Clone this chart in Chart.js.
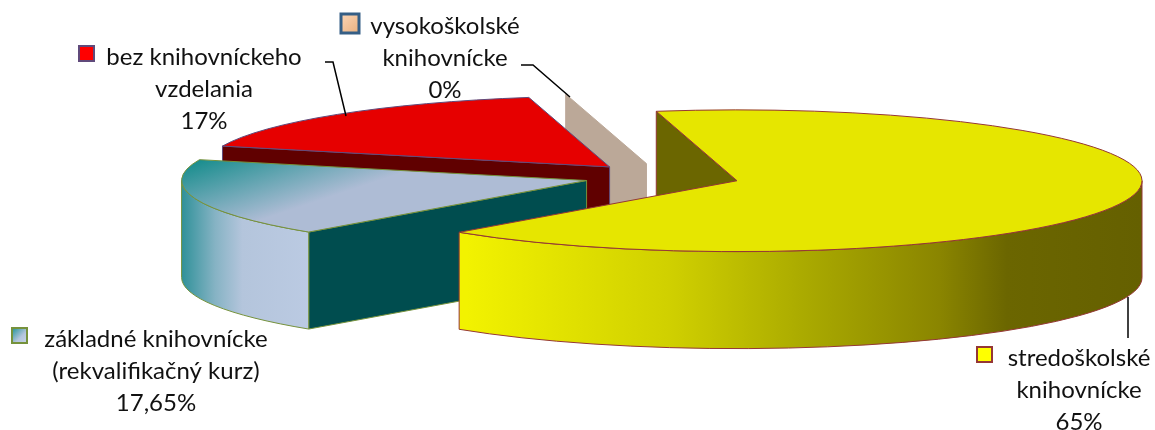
<!DOCTYPE html>
<html>
<head>
<meta charset="utf-8">
<title>Kvalifikácia</title>
<script src="https://cdn.jsdelivr.net/npm/chart.js@4"></script>
<style>
    html, body { margin: 0; padding: 0; background: #fff; }
    canvas { display: block; }
</style>
</head>
<body>
<canvas id="pieChart" width="1155" height="430"></canvas>
<script>
(function() {

    // Data, clockwise from the gap at the back
    var categories = [
        ["stredoškolské", "knihovnícke"],
        ["základné knihovnícke", "(rekvalifikačný kurz)"],
        ["bez knihovníckeho", "vzdelania"],
        ["vysokoškolské", "knihovnícke"]
    ];
    var values = [65, 17.65, 17, 0];
    var valueLabels = ["65%", "17,65%", "17%", "0%"];

    // Slice colours
    var topColors = ["#e6e600", "#aebcd5", "#e60000", "#bba898"];
    var sideColors = ["#6b6600", "#004d4f", "#600000", "#bba898"];
    var edgeColors = ["#953735", "#76923c", "#604a7b", "#bba898"];

    // Fake 3D settings
    var tilt = 0.175;
    var depth = 97;
    var explode = 78;

    // Label blocks: text centre, first line y, key box and leader line
    var labelBoxes = [
        { cx: 1079, y: 358, key: [977, 347, 15, 15], leader: [[1128, 297], [1128, 338]] },
        { cx: 156, y: 339, key: [12, 328, 15, 15], leader: null },
        { cx: 204, y: 57, key: [79, 46, 15, 15], leader: [[325, 62], [333, 62], [346, 116]] },
        { cx: 445, y: 26, key: [341, 14, 18, 19], leader: [[521, 65], [533, 65], [570, 97]] }
    ];
    var lineHeight = 32;

    function screenY(chart, y) {
        var cy = (chart.chartArea.top + chart.chartArea.bottom) / 2;
        return cy + (y - cy) * tilt;
    }

    // Gradient for the walls, in screen pixels
    function yellowSide(ctx, arc) {
        var g = ctx.createLinearGradient(467, 0, arc.x + arc.outerRadius, 0);
        g.addColorStop(0, "#f2f200");
        g.addColorStop(0.3, "#d0d000");
        g.addColorStop(0.5, "#aaaa00");
        g.addColorStop(0.7, "#8a8500");
        g.addColorStop(0.8, "#6b6600");
        g.addColorStop(1, "#656000");
        return g;
    }

    function tealSide(ctx, arc) {
        var left = arc.x - arc.outerRadius;
        var g = ctx.createLinearGradient(left, 0, left + 135, 0);
        g.addColorStop(0, "#2f9199");
        g.addColorStop(0.25, "#86b3c4");
        g.addColorStop(0.45, "#b4c5dc");
        g.addColorStop(1, "#bccbe3");
        return g;
    }

    // Top of the teal slice, drawn in the unsquashed pie space
    function tealTop(ctx, arc) {
        var g = ctx.createLinearGradient(arc.x - 355, arc.y - 186, arc.x - 163, arc.y - 86);
        g.addColorStop(0, "#178d8d");
        g.addColorStop(1, "#aebcd5");
        return g;
    }

    function drawWalls(chart, arc, i) {
        var ctx = chart.ctx;
        var r = arc.outerRadius;
        var x = arc.x;
        var y = screenY(chart, arc.y);
        var a = arc.startAngle;

        // radial wall at the start edge of the slice
        var rimX = x + Math.cos(a) * r;
        var rimY = y + Math.sin(a) * r * tilt;
        ctx.beginPath();
        ctx.moveTo(x, y);
        ctx.lineTo(rimX, rimY);
        ctx.lineTo(rimX, rimY + depth);
        ctx.lineTo(x, y + depth);
        ctx.closePath();
        ctx.fillStyle = sideColors[i];
        ctx.fill();
        ctx.lineWidth = 1;
        ctx.strokeStyle = i === 3 ? sideColors[i] : edgeColors[i];
        ctx.stroke();

        // outer wall, only the part that faces the viewer
        var a0 = Math.max(arc.startAngle, 0);
        var a1 = Math.min(arc.endAngle, Math.PI);
        if (a1 > a0) {
            ctx.beginPath();
            ctx.ellipse(x, y, r, r * tilt, 0, a0, a1);
            ctx.ellipse(x, y + depth, r, r * tilt, 0, a1, a0, true);
            ctx.closePath();
            ctx.fillStyle = i === 0 ? yellowSide(ctx, arc) : tealSide(ctx, arc);
            ctx.fill();
            ctx.strokeStyle = edgeColors[i];
            ctx.stroke();
        }
    }

    function drawTopEdge(chart, arc, i) {
        if (arc.circumference === 0) {
            return;
        }
        var ctx = chart.ctx;
        ctx.beginPath();
        ctx.moveTo(arc.x, screenY(chart, arc.y));
        ctx.ellipse(arc.x, screenY(chart, arc.y), arc.outerRadius, arc.outerRadius * tilt, 0, arc.startAngle, arc.endAngle);
        ctx.closePath();
        ctx.lineWidth = 1;
        ctx.strokeStyle = edgeColors[i];
        ctx.stroke();
    }

    function keyFill(ctx, i, k) {
        if (i === 0) { return "#ffff00"; }
        if (i === 2) { return "#ff0000"; }
        var g = ctx.createLinearGradient(k[0], k[1], k[0] + k[2], k[1] + k[3]);
        if (i === 1) {
            g.addColorStop(0, "#1f9296");
            g.addColorStop(0.6, "#b4c5dc");
            g.addColorStop(1, "#c6d4e8");
        } else {
            g.addColorStop(0, "#fbd5b5");
            g.addColorStop(1, "#e8b080");
        }
        return g;
    }

    function drawLabels(chart) {
        var ctx = chart.ctx;
        ctx.save();
        for (var i = 0; i < categories.length; i++) {
            var box = labelBoxes[i];
            var k = box.key;
            var lines = categories[i].concat(valueLabels[i]);

            ctx.font = "24px Lato";
            ctx.fillStyle = "#111";
            ctx.textAlign = "center";
            ctx.textBaseline = "middle";
            for (var j = 0; j < lines.length; j++) {
                ctx.fillText(lines[j], box.cx, box.y + j * lineHeight);
            }

            ctx.fillStyle = keyFill(ctx, i, k);
            ctx.fillRect(k[0], k[1], k[2], k[3]);
            ctx.strokeStyle = ["#953735", "#76923c", "#604a7b", "#355e85"][i];
            ctx.lineWidth = i === 3 ? 3 : 2;
            ctx.strokeRect(k[0], k[1], k[2], k[3]);

            if (box.leader) {
                ctx.beginPath();
                ctx.moveTo(box.leader[0][0], box.leader[0][1]);
                for (var p = 1; p < box.leader.length; p++) {
                    ctx.lineTo(box.leader[p][0], box.leader[p][1]);
                }
                ctx.strokeStyle = "#000";
                ctx.lineWidth = 1.5;
                ctx.stroke();
            }
        }
        ctx.restore();
    }

    var pie3d = {
        id: "pie3d",
        afterDatasetsUpdate: function(chart) {
            var arcs = chart.getDatasetMeta(0).data;
            arcs.forEach(function(arc) {
                var half = (arc.startAngle + arc.endAngle) / 2;
                arc.x += Math.cos(half) * explode;
                arc.y += Math.sin(half) * explode;
            });
            arcs[1].options = Object.assign({}, arcs[1].options, { backgroundColor: tealTop(chart.ctx, arcs[1]) });
        },
        beforeDatasetsDraw: function(chart) {
            var ctx = chart.ctx;
            var arcs = chart.getDatasetMeta(0).data;
            var cy = (chart.chartArea.top + chart.chartArea.bottom) / 2;
            for (var i = arcs.length - 1; i >= 0; i--) {
                drawWalls(chart, arcs[i], i);
            }
            // the pie itself is drawn flat and squashed into an ellipse
            ctx.save();
            ctx.translate(0, cy);
            ctx.scale(1, tilt);
            ctx.translate(0, -cy);
        },
        afterDatasetsDraw: function(chart) {
            chart.ctx.restore();
            chart.getDatasetMeta(0).data.forEach(function(arc, i) {
                drawTopEdge(chart, arc, i);
            });
            drawLabels(chart);
        }
    };

    new Chart(document.getElementById("pieChart"), {
        type: "pie",
        data: {
            labels: categories.map(function(c) { return c.join(" "); }),
            datasets: [{
                data: values,
                backgroundColor: topColors,
                borderWidth: 0,
                clip: false
            }]
        },
        options: {
            responsive: false,
            animation: false,
            rotation: -11.5,
            radius: 405,
            layout: { padding: { left: 169, bottom: 76 } },
            plugins: {
                legend: { display: false },
                tooltip: { enabled: false }
            }
        },
        plugins: [pie3d]
    });

})();
</script>
</body>
</html>
